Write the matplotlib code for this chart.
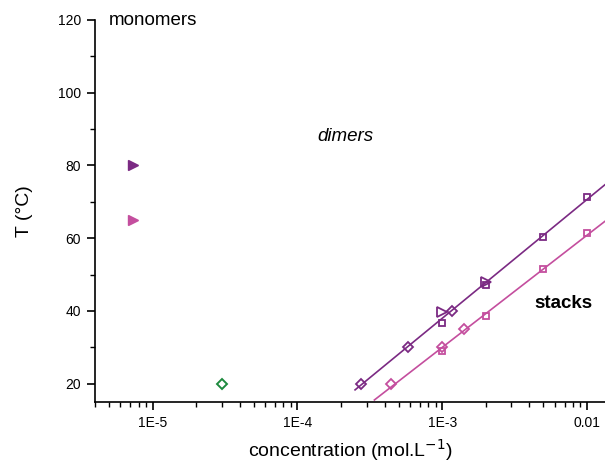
import numpy as np
import matplotlib.pyplot as plt
from matplotlib.ticker import LogLocator, FixedLocator, FuncFormatter

plt.rcParams['font.family'] = ['Liberation Sans', 'DejaVu Sans']

DARK = '#7b2a83'
PINK = '#c44e9e'
GREEN = '#1d8a3e'

# monomer limits (filled triangles)
mono_c = [7.3e-6, 7.3e-6]
mono_T = [80, 65]

# dimer point
dim_c = [3.0e-5]
dim_T = [20]

# dark series: squares, diamonds, triangles
dark_sq_c = [1e-3, 2e-3, 5e-3, 1e-2]
dark_sq_T = [36.8, 47.2, 60.3, 71.3]
dark_di_c = [2.76e-4, 5.8e-4, 1.17e-3]
dark_di_T = [20, 30, 40]
dark_tr_c = [1e-3, 2e-3]
dark_tr_T = [39.8, 47.9]

# pink series
pink_sq_c = [1e-3, 2e-3, 5e-3, 1e-2]
pink_sq_T = [28.9, 38.6, 51.4, 61.4]
pink_di_c = [4.45e-4, 1e-3, 1.42e-3]
pink_di_T = [20, 30.2, 35]

fig = plt.figure(figsize=(6.05, 4.62), dpi=100)
ax = fig.add_axes([0.157, 0.13, 0.843, 0.827])

ax.plot(mono_c[:1], mono_T[:1], '>', color=DARK, ms=7, mec=DARK, clip_on=False)
ax.plot(mono_c[1:], mono_T[1:], '>', color=PINK, ms=7, mec=PINK, clip_on=False)
ax.plot(dim_c, dim_T, 'D', mfc='none', mec=GREEN, mew=1.4, ms=5)

mk = dict(mfc='none', ls='none', mew=1.3)
ax.plot(dark_sq_c, dark_sq_T, 's', mec=DARK, ms=5, **mk)
ax.plot(dark_di_c, dark_di_T, 'D', mec=DARK, ms=5, **mk)
ax.plot(dark_tr_c, dark_tr_T, '>', mec=DARK, ms=6.5, **mk)
ax.plot(pink_sq_c, pink_sq_T, 's', mec=PINK, ms=5, **mk)
ax.plot(pink_di_c, pink_di_T, 'D', mec=PINK, ms=5, **mk)

# linear fits of T against log10(c)
dark_c = np.array(dark_sq_c + dark_di_c + dark_tr_c)
dark_T = np.array(dark_sq_T + dark_di_T + dark_tr_T)
pink_c = np.array(pink_sq_c + pink_di_c)
pink_T = np.array(pink_sq_T + pink_di_T)
for cc, tt, c0, col in [(dark_c, dark_T, 2.5e-4, DARK), (pink_c, pink_T, 3.4e-4, PINK)]:
    p = np.polyfit(np.log10(cc), tt, 1)
    xs = np.logspace(np.log10(c0), np.log10(0.014), 50)
    ax.plot(xs, np.polyval(p, np.log10(xs)), color=col, lw=1.2)

ax.set_xscale('log')
ax.set_xlim(4e-6, 1.33e-2)
ax.set_ylim(15, 120)

ax.spines['top'].set_visible(False)
ax.spines['right'].set_visible(False)
ax.spines['left'].set_linewidth(1.2)
ax.spines['bottom'].set_linewidth(1.2)

ax.xaxis.set_major_locator(FixedLocator([1e-5, 1e-4, 1e-3, 1e-2]))
ax.xaxis.set_major_formatter(FuncFormatter(
    lambda v, pos: {1e-5: '1E-5', 1e-4: '1E-4', 1e-3: '1E-3', 1e-2: '0.01'}.get(v, '')))
ax.xaxis.set_minor_locator(LogLocator(base=10, subs=np.arange(2, 10), numticks=20))
ax.xaxis.set_minor_formatter(FuncFormatter(lambda v, pos: ''))
ax.yaxis.set_major_locator(FixedLocator([20, 40, 60, 80, 100, 120]))
ax.yaxis.set_minor_locator(FixedLocator([30, 50, 70, 90, 110]))

ax.tick_params(which='major', direction='out', length=6, width=1.2, labelsize=10, pad=4)
ax.tick_params(which='minor', direction='out', length=3.5, width=1.0)

ax.set_xlabel('concentration (mol.L$^{-1}$)', fontsize=14, labelpad=5)
ax.set_ylabel('T (°C)', fontsize=14, labelpad=18)

ax.text(5.0e-6, 119.8, 'monomers', fontsize=13.5, va='center')
ax.text(1.37e-4, 88, 'dimers', fontsize=13.5, style='italic', va='center')
ax.text(4.3e-3, 42, 'stacks', fontsize=13.5, weight='bold', va='center')

fig.savefig('out.png', dpi=100)
